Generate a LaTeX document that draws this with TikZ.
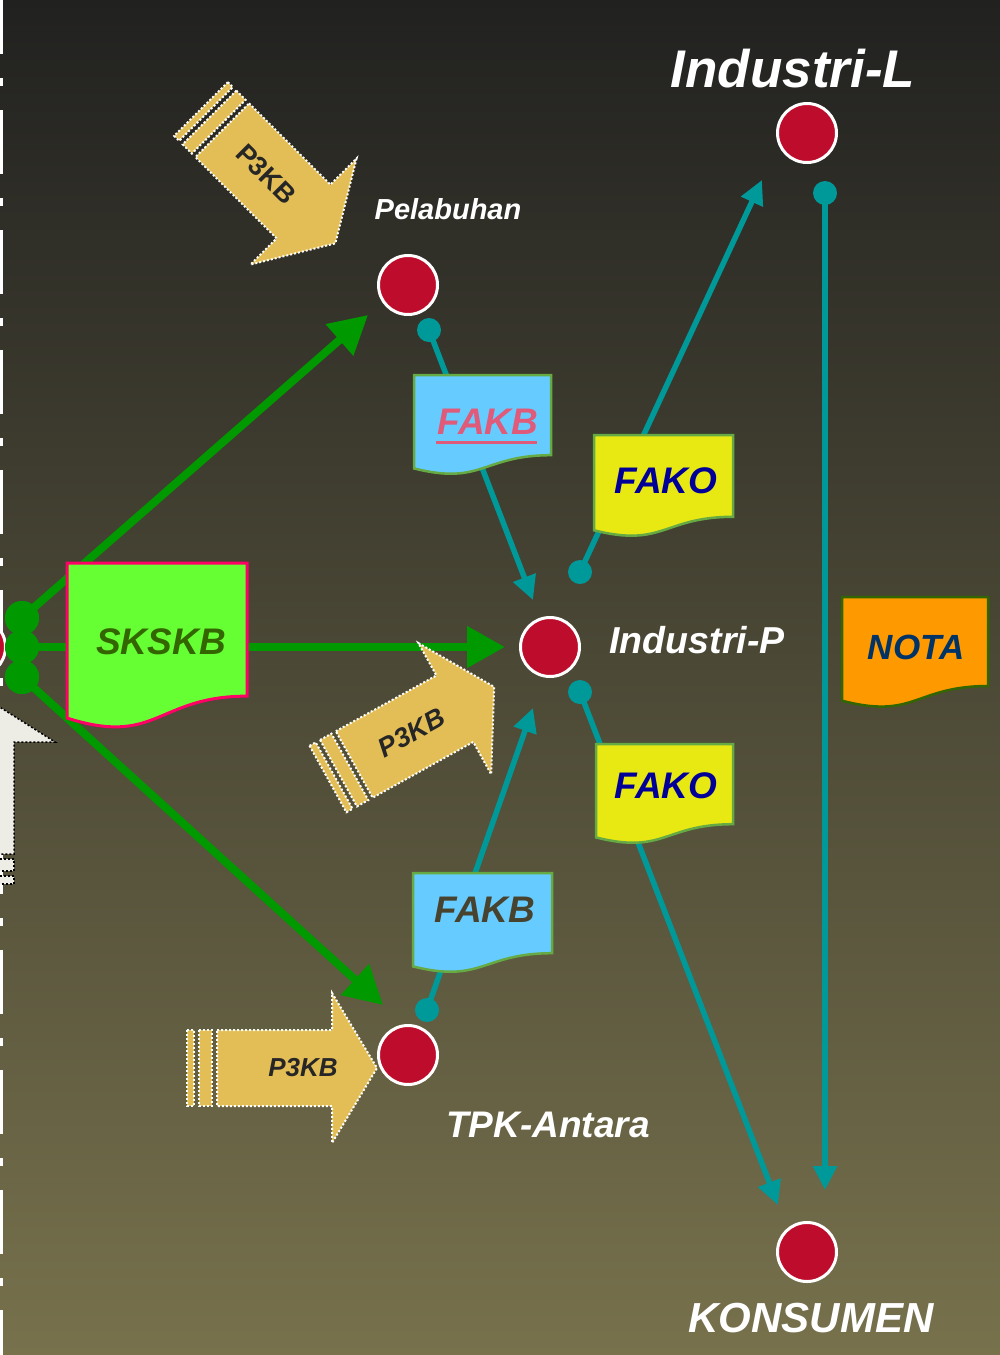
\documentclass[tikz,border=0pt]{standalone}
\usepackage{fontspec}
\setmainfont{Liberation Sans}
\usetikzlibrary{arrows.meta,calc}
\definecolor{bgtop}{HTML}{212120}
\definecolor{bgmid}{HTML}{57533C}
\definecolor{bgbot}{HTML}{77714C}
\definecolor{nodered}{HTML}{BE0C2D}
\definecolor{tealc}{HTML}{009999}
\definecolor{greenc}{HTML}{009900}
\definecolor{p3kbfill}{HTML}{E3BE57}
\definecolor{skfill}{HTML}{66FF33}
\definecolor{skborder}{HTML}{FF0066}
\definecolor{sktext}{HTML}{336600}
\definecolor{fakbfill}{HTML}{66CCFF}
\definecolor{docborder}{HTML}{66AA44}
\definecolor{fakbpink}{HTML}{E05A7A}
\definecolor{fakbdark}{HTML}{47432E}
\definecolor{fakofill}{HTML}{E8E812}
\definecolor{fakotext}{HTML}{000099}
\definecolor{notafill}{HTML}{FF9900}
\definecolor{notaborder}{HTML}{336600}
\definecolor{notatext}{HTML}{003366}
\definecolor{whitearr}{HTML}{EDECE5}
\newcommand\DocShape[5]{%
  \draw[#5] (#1,#2) -- ({#1+#3},#2) -- ({#1+#3},{#2+0.802*#4})
    .. controls ({#1+0.5*#3},{#2+0.802*#4}) and ({#1+0.5*#3},{#2+1.107*#4}) ..
    (#1,{#2+0.934*#4}) -- cycle;}
\newcommand\BlockArrow[6]{% x, y, angle, text pos, font, name
  \begin{scope}[shift={(#1,#2)}, rotate=#3]
    \draw[p3kb] (0,-38) rectangle (7,38);
    \draw[p3kb] (12,-38) rectangle (25,38);
    \draw[p3kb] (30,-38) -- (145,-38) -- (145,-75) -- (190,0) -- (145,75) -- (145,38) -- (30,38) -- cycle;
    \node[rotate=#3, inner sep=0, text=black!85, font=#5] (#6) at (#4,0) {P3KB};
  \end{scope}}
\begin{document}
\begin{tikzpicture}[x=1pt,y=-1pt,
  redpt/.style={circle, fill=nodered, draw=white, line width=3pt, minimum size=59pt, inner sep=0pt},
  gdot/.style={circle, fill=greenc, minimum size=34pt, inner sep=0pt},
  gline/.style={draw=greenc, line width=8pt, -{Triangle[length=38pt,width=40pt]}},
  tline/.style={draw=tealc, line width=5.5pt, -{Triangle[length=24pt,width=23pt]}},
  tdot/.style={fill=tealc},
  p3kb/.style={fill=p3kbfill, draw=white, line width=2pt, dash pattern=on 2pt off 2pt},
  lbl/.style={text=white, inner sep=0pt},
  doctext/.style={inner sep=0pt}
]
\useasboundingbox (0,0) rectangle (1000,1355);
\clip (0,0) rectangle (1000,1355);
\shade[top color=bgtop, middle color=bgmid, bottom color=bgbot] (0,0) rectangle (1000,1355);

% left dashed border
\draw[white, line width=3pt, dash pattern=on 64pt off 24pt on 8pt off 24pt] (1.5,-10) -- (1.5,1400);

% partly visible red node at left
\node[redpt] (leftp) at (-24,647) {};

% white block arrow at left
\draw[fill=whitearr, draw=black, line width=1.5pt, dash pattern=on 2pt off 2pt] (-40,682) -- (55,742) -- (14,742) -- (14,854) -- (-40,854) -- cycle;
\draw[fill=whitearr, draw=black, line width=1.5pt, dash pattern=on 2pt off 2pt] (-40,859) -- (14,859) -- (14,871) -- (-40,871) -- cycle;
\draw[fill=whitearr, draw=black, line width=1.5pt, dash pattern=on 2pt off 2pt] (-40,876) -- (14,876) -- (14,884) -- (-40,884) -- cycle;

% main nodes
\node[redpt] (indl) at (807,133) {};
\node[redpt] (pel) at (408,285) {};
\node[redpt, draw=none, fill=none] (indpref) at (550,647) {};
\node[redpt, draw=none, fill=none] (tpkref) at (408,1055) {};
\node[redpt, draw=none, fill=none] (konsref) at (807,1252) {};

% green dots
\node[gdot] (gd1) at (22,618) {};
\node[gdot] (gd2) at (22,647) {};
\node[gdot] (gd3) at (22,677) {};

% green connectors
\draw[gline] (gd1.center) -- ($(pel)+(-40,30)$);
\draw[gline] (gd2.center) -- ($(indpref)+(-45,0)$);
\draw[gline] (gd3.center) -- ($(tpkref)+(-25,-50)$);
\node[gdot] at (gd1) {};
\node[gdot] at (gd2) {};
\node[gdot] at (gd3) {};

% teal connectors
\draw[tline] ($(pel)+(21,45)$) coordinate (t1s) -- ($(indpref)+(-17,-47)$);
\fill[tdot] (t1s) circle (12);
\draw[tline] ($(indpref)+(30,-75)$) coordinate (t2s) -- ($(indl)+(-45,47)$);
\fill[tdot] (t2s) circle (12);
\draw[tline] ($(indl)+(18,60)$) coordinate (t3s) -- ($(konsref)+(18,-62)$);
\fill[tdot] (t3s) circle (12);
\draw[tline] ($(indpref)+(30,45)$) coordinate (t4s) -- ($(konsref)+(-29,-47)$);
\fill[tdot] (t4s) circle (12);
\draw[tline] ($(tpkref)+(19,-45)$) coordinate (t5s) -- ($(indpref)+(-17,61)$);
\fill[tdot] (t5s) circle (12);

% documents
\DocShape{67}{563}{180}{166}{fill=skfill, draw=skborder, line width=3pt}
\node[doctext, text=sktext, font=\fontsize{37}{37}\selectfont\bfseries\itshape] (skskb) at (161,642) {SKSKB};

\DocShape{414}{375}{137}{100}{fill=fakbfill, draw=docborder, line width=2.5pt}
\node[doctext, text=fakbpink, font=\fontsize{37}{37}\selectfont\bfseries\itshape] (fakb1) at (488,422) {FAKB};
\draw[fakbpink, line width=3pt] ($(fakb1.south west)+(-1,8)$) -- ($(fakb1.south east)+(-2,8)$);

\DocShape{594}{435}{139}{102}{fill=fakofill, draw=docborder, line width=2.5pt}
\node[doctext, text=fakotext, font=\fontsize{37}{37}\selectfont\bfseries\itshape] (fako1) at (666,481) {FAKO};

\DocShape{596}{744}{137}{100}{fill=fakofill, draw=docborder, line width=2.5pt}
\node[doctext, text=fakotext, font=\fontsize{37}{37}\selectfont\bfseries\itshape] (fako2) at (666,786) {FAKO};

\DocShape{413}{873}{139}{100}{fill=fakbfill, draw=docborder, line width=2.5pt}
\node[doctext, text=fakbdark, font=\fontsize{37}{37}\selectfont\bfseries\itshape] (fakb2) at (485,910) {FAKB};

\DocShape{842}{597}{146}{111}{fill=notafill, draw=notaborder, line width=2.5pt}
\node[doctext, text=notatext, font=\fontsize{35}{35}\selectfont\bfseries\itshape] (nota) at (916,647) {NOTA};

% P3KB block arrows
\BlockArrow{201}{109}{-45}{92}{\fontsize{27}{27}\selectfont\bfseries}{p3kbA}
\BlockArrow{328}{779}{29}{96}{\fontsize{27}{27}\selectfont\bfseries\itshape}{p3kbB}
\BlockArrow{187}{1068}{0}{116}{\fontsize{26}{26}\selectfont\bfseries\itshape}{p3kbC}

% red nodes on top
\node[redpt] (indp) at (550,647) {};
\node[redpt] (tpk) at (408,1055) {};
\node[redpt] (kons) at (807,1252) {};

% labels
\node[lbl, font=\fontsize{53}{53}\selectfont\bfseries\itshape] (lindl) at (793,69) {Industri-L};
\node[lbl, font=\fontsize{29}{29}\selectfont\bfseries\itshape] (lpel) at (448,209) {Pelabuhan};
\node[lbl, font=\fontsize{37.5}{37.5}\selectfont\bfseries\itshape] (lindp) at (697,640) {Industri-P};
\node[lbl, font=\fontsize{37}{37}\selectfont\bfseries\itshape] (ltpk) at (548,1125) {TPK-Antara};
\node[lbl, font=\fontsize{42}{42}\selectfont\bfseries\itshape] (lkons) at (811,1318) {KONSUMEN};
\end{tikzpicture}
\end{document}
